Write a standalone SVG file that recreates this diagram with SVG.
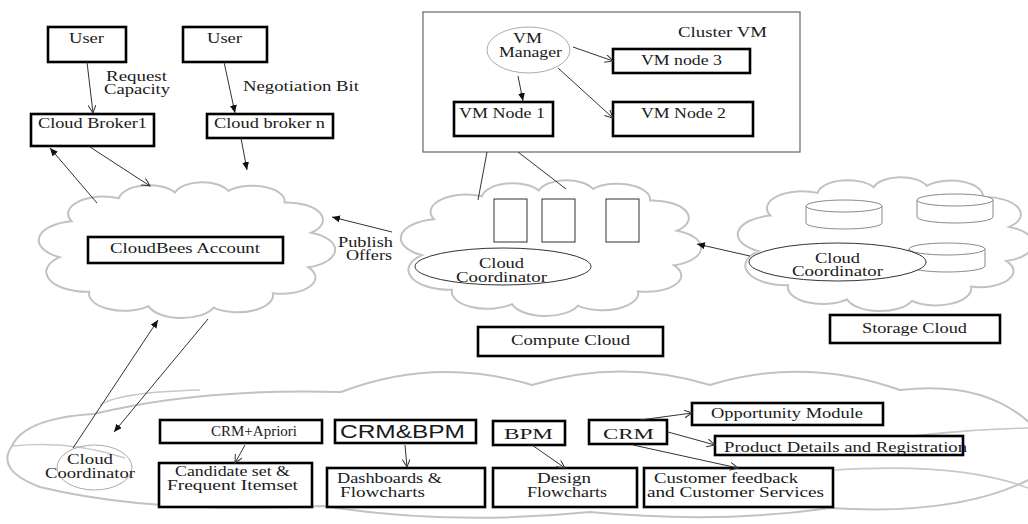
<svg xmlns="http://www.w3.org/2000/svg" xmlns:xlink="http://www.w3.org/1999/xlink" width="1028" height="524" viewBox="0 0 1028 524">
<style>
.t{font-family:"Liberation Serif","Times New Roman",serif;font-size:14px;fill:#1a1a1a}
.s{font-family:"Liberation Sans",Arial,sans-serif;font-size:19px;fill:#1a1a1a}
.box{fill:#fff;stroke:#000;stroke-width:2.6}
.thin{fill:#fff;stroke:#333;stroke-width:1}
.cloud{fill:#fff;stroke:#c2c2c2;stroke-width:2}
.crease{fill:none;stroke:#c8c8c8;stroke-width:1.6}
.cyl{fill:#fff;stroke:#8a8a8a;stroke-width:1}
.ln{fill:none;stroke:#333;stroke-width:1}
.ao{marker-end:url(#open)}
.af{marker-end:url(#fill)}
</style>
<defs>
<marker id="open" markerUnits="userSpaceOnUse" markerWidth="10" markerHeight="10" refX="8" refY="4" orient="auto">
<path d="M0,0 L8,4 L0,8" fill="none" stroke="#333" stroke-width="1"/>
</marker>
<marker id="fill" markerUnits="userSpaceOnUse" markerWidth="10" markerHeight="10" refX="8" refY="3.5" orient="auto">
<path d="M0,0 L8,3.5 L0,7 Z" fill="#111"/>
</marker>
<path id="cloudShape" vector-effect="non-scaling-stroke" d="M8,55 A13.4,13.4 0 0 1 12,30 A12,12 0 0 1 28,14 A10.3,10.3 0 0 1 47,10 A9.5,9.5 0 0 1 65,9 A10.9,10.9 0 0 1 84,17 A12.1,12.1 0 0 1 93,38 A12.7,12.7 0 0 1 92,62 A11.4,11.4 0 0 1 80,80 A11.9,11.9 0 0 1 60,90 A11.7,11.7 0 0 1 38,89 A11.9,11.9 0 0 1 18,79 A13.8,13.8 0 0 1 8,55 Z"/>
</defs>
<rect width="1028" height="524" fill="#fff"/>

<g id="clouds">
<use id="cloudbees-cloud" xlink:href="#cloudShape" class="cloud" transform="translate(36,178) scale(2.96,1.44)"/>
<use id="compute-cloud" xlink:href="#cloudShape" class="cloud" transform="translate(398,176) scale(3.0,1.44)"/>
<use id="storage-cloud" xlink:href="#cloudShape" class="cloud" transform="translate(735,173) scale(2.95,1.42)"/>
<g id="bottom-cloud">
<path class="cloud" d="M94,414 Q200,388 341,392 Q436,356 532,385 Q621,358 710,385 Q805,356 900,390 Q985,380 1032,425 L1032,478 Q960,516 830,508 Q720,524 590,512 Q450,526 323,506 Q150,514 40,487 Q-5,470 12,446 Q25,418 94,414 Z"/>
<path class="crease" d="M12,446 Q70,440 125,458"/>
<path class="crease" d="M100,405 Q120,392 200,390"/>
<path class="crease" d="M835,448 Q930,430 1028,428"/>
<path class="crease" d="M835,470 Q960,462 1028,488"/>
</g>
</g>

<g id="cluster-vm">
<rect x="423" y="12" width="377" height="140" fill="#fff" stroke="#666" stroke-width="1.2"/>
<text class="t" x="678" y="37" textLength="89" lengthAdjust="spacingAndGlyphs">Cluster VM</text>
</g>
<g id="vm-manager">
<ellipse cx="528.5" cy="50" rx="41.5" ry="23" fill="#fff" stroke="#aaa" stroke-width="1"/>
<text class="t" x="513" y="43" textLength="29" lengthAdjust="spacingAndGlyphs">VM</text>
<text class="t" x="499" y="57" textLength="63" lengthAdjust="spacingAndGlyphs">Manager</text>
</g>
<g id="vm-node-3"><rect class="box" x="613" y="49" width="137" height="24"/><text class="t" x="641" y="65" textLength="81" lengthAdjust="spacingAndGlyphs">VM node 3</text></g>
<g id="vm-node-1"><rect class="box" x="454" y="102" width="99" height="34"/><text class="t" x="459" y="118" textLength="86" lengthAdjust="spacingAndGlyphs">VM Node 1</text></g>
<g id="vm-node-2"><rect class="box" x="613" y="102" width="140" height="34"/><text class="t" x="641" y="118" textLength="85" lengthAdjust="spacingAndGlyphs">VM Node 2</text></g>

<g id="user-1"><rect class="box" x="48" y="27" width="78" height="35"/><text class="t" x="69" y="43" textLength="35" lengthAdjust="spacingAndGlyphs">User</text></g>
<g id="user-2"><rect class="box" x="183" y="27" width="84" height="35"/><text class="t" x="207" y="43" textLength="35" lengthAdjust="spacingAndGlyphs">User</text></g>
<g id="cloud-broker-1"><rect class="box" x="31" y="114" width="123" height="32"/><text class="t" x="38" y="128" textLength="109" lengthAdjust="spacingAndGlyphs">Cloud Broker1</text></g>
<g id="cloud-broker-n"><rect class="box" x="207" y="114" width="126" height="24"/><text class="t" x="214" y="128" textLength="111" lengthAdjust="spacingAndGlyphs">Cloud broker n</text></g>

<g id="cloudbees-account"><rect class="box" x="88" y="237" width="195" height="26"/><text class="t" x="110" y="253" textLength="150" lengthAdjust="spacingAndGlyphs">CloudBees Account</text></g>

<g id="compute-servers">
<rect class="thin" x="494" y="199" width="33" height="43"/>
<rect class="thin" x="542" y="199" width="33" height="43"/>
<rect class="thin" x="606" y="199" width="33" height="43"/>
</g>
<g id="compute-coordinator">
<ellipse cx="503" cy="266.5" rx="88" ry="18.5" fill="#fff" stroke="#333" stroke-width="1"/>
<text class="t" x="479" y="268" textLength="45" lengthAdjust="spacingAndGlyphs">Cloud</text>
<text class="t" x="456" y="282" textLength="91" lengthAdjust="spacingAndGlyphs">Coordinator</text>
</g>
<g id="compute-cloud-label"><rect class="box" x="478" y="327" width="185" height="29"/><text class="t" x="511" y="345" textLength="119" lengthAdjust="spacingAndGlyphs">Compute Cloud</text></g>

<g id="storage-disks">
<path class="cyl" d="M806,206 L806,223 A38,6 0 0 0 882,223 L882,206"/><ellipse class="cyl" cx="844" cy="206" rx="38" ry="6"/>
<path class="cyl" d="M917,200 L917,217 A38,6 0 0 0 993,217 L993,200"/><ellipse class="cyl" cx="955" cy="200" rx="38" ry="6"/>
<path class="cyl" d="M909,249 L909,266 A38,6 0 0 0 985,266 L985,249"/><ellipse class="cyl" cx="947" cy="249" rx="38" ry="6"/>
</g>
<g id="storage-coordinator">
<ellipse cx="837.5" cy="262" rx="88.5" ry="19" fill="#fff" stroke="#333" stroke-width="1"/>
<text class="t" x="815" y="263" textLength="45" lengthAdjust="spacingAndGlyphs">Cloud</text>
<text class="t" x="792" y="276" textLength="91" lengthAdjust="spacingAndGlyphs">Coordinator</text>
</g>
<g id="storage-cloud-label"><rect class="box" x="830" y="315" width="170" height="28"/><text class="t" x="862" y="333" textLength="105" lengthAdjust="spacingAndGlyphs">Storage Cloud</text></g>

<g id="bottom-coordinator">
<ellipse cx="94.5" cy="467.5" rx="37.5" ry="22.5" fill="none" stroke="#aaa" stroke-width="1"/>
<text class="t" x="67" y="464" font-size="13" textLength="46" lengthAdjust="spacingAndGlyphs">Cloud</text>
<text class="t" x="45" y="478" font-size="13" textLength="90" lengthAdjust="spacingAndGlyphs">Coordinator</text>
</g>
<g id="crm-apriori"><rect class="box" x="160" y="420" width="162" height="23"/><text class="t" x="211" y="436" font-size="15" textLength="86" lengthAdjust="spacingAndGlyphs">CRM+Apriori</text></g>
<g id="crm-bpm"><rect class="box" x="335" y="420" width="141" height="23"/><text class="s" x="340" y="438" textLength="125" lengthAdjust="spacingAndGlyphs">CRM&amp;BPM</text></g>
<g id="bpm"><rect class="box" x="493" y="421" width="72" height="24"/><text class="t" x="504" y="439" font-size="17" textLength="49" lengthAdjust="spacingAndGlyphs">BPM</text></g>
<g id="crm"><rect class="box" x="589" y="420" width="78" height="24"/><text class="t" x="603" y="439" font-size="17" textLength="51" lengthAdjust="spacingAndGlyphs">CRM</text></g>
<g id="opportunity-module"><rect class="box" x="692" y="403" width="191" height="22"/><text class="t" x="711" y="418" textLength="152" lengthAdjust="spacingAndGlyphs">Opportunity Module</text></g>
<g id="product-details"><rect class="box" x="715" y="436" width="248" height="19"/><text class="t" x="724" y="452" textLength="243" lengthAdjust="spacingAndGlyphs">Product Details and Registration</text></g>
<g id="candidate-set"><rect class="box" x="159" y="463" width="153" height="44"/><text class="t" x="175" y="476" textLength="115" lengthAdjust="spacingAndGlyphs">Candidate set &amp;</text><text class="t" x="167" y="490" textLength="131" lengthAdjust="spacingAndGlyphs">Frequent Itemset</text></g>
<g id="dashboards"><rect class="box" x="327" y="468" width="158" height="39"/><text class="t" x="337" y="483" textLength="105" lengthAdjust="spacingAndGlyphs">Dashboards &amp;</text><text class="t" x="340" y="497" textLength="85" lengthAdjust="spacingAndGlyphs">Flowcharts</text></g>
<g id="design-flowcharts"><rect class="box" x="493" y="468" width="144" height="39"/><text class="t" x="537" y="483" textLength="54" lengthAdjust="spacingAndGlyphs">Design</text><text class="t" x="527" y="497" textLength="80" lengthAdjust="spacingAndGlyphs">Flowcharts</text></g>
<g id="customer-feedback"><rect class="box" x="644" y="468" width="189" height="39"/><text class="t" x="654" y="483" textLength="144" lengthAdjust="spacingAndGlyphs">Customer feedback</text><text class="t" x="647" y="497" textLength="177" lengthAdjust="spacingAndGlyphs">and Customer Services</text></g>

<g id="labels">
<text class="t" x="106" y="81" textLength="61" lengthAdjust="spacingAndGlyphs">Request</text>
<text class="t" x="104" y="94" textLength="66" lengthAdjust="spacingAndGlyphs">Capacity</text>
<text class="t" x="243" y="91" textLength="116" lengthAdjust="spacingAndGlyphs">Negotiation Bit</text>
<text class="t" x="338" y="247" textLength="55" lengthAdjust="spacingAndGlyphs">Publish</text>
<text class="t" x="346" y="260" textLength="46" lengthAdjust="spacingAndGlyphs">Offers</text>
</g>

<g id="connectors">
<line class="ln ao" x1="87" y1="62" x2="93" y2="113"/>
<line class="ln af" x1="224" y1="62" x2="235" y2="113"/>
<line class="ln af" x1="241" y1="138" x2="247" y2="170"/>
<line class="ln af" x1="97" y1="203" x2="50" y2="148"/>
<line class="ln ao" x1="90" y1="147" x2="150" y2="186"/>
<line class="ln af" x1="392" y1="232" x2="332" y2="217"/>
<line class="ln" x1="487" y1="152" x2="478" y2="200"/>
<line class="ln" x1="518" y1="152" x2="566" y2="189"/>
<line class="ln af" x1="750" y1="256" x2="697" y2="244"/>
<line class="ln ao" x1="573" y1="47" x2="613" y2="61"/>
<line class="ln af" x1="518" y1="76" x2="523" y2="101"/>
<line class="ln ao" x1="558" y1="68" x2="613" y2="118"/>
<line class="ln af" x1="73" y1="448" x2="158" y2="320"/>
<line class="ln af" x1="208" y1="319" x2="114" y2="432"/>
<line class="ln ao" x1="245" y1="445" x2="235" y2="463"/>
<line class="ln ao" x1="405" y1="445" x2="407" y2="467"/>
<line class="ln ao" x1="532" y1="445" x2="565" y2="468"/>
<line class="ln ao" x1="640" y1="420" x2="692" y2="413"/>
<line class="ln ao" x1="668" y1="432" x2="715" y2="445"/>
<line class="ln ao" x1="633" y1="445" x2="738" y2="468"/>
</g>
</svg>
